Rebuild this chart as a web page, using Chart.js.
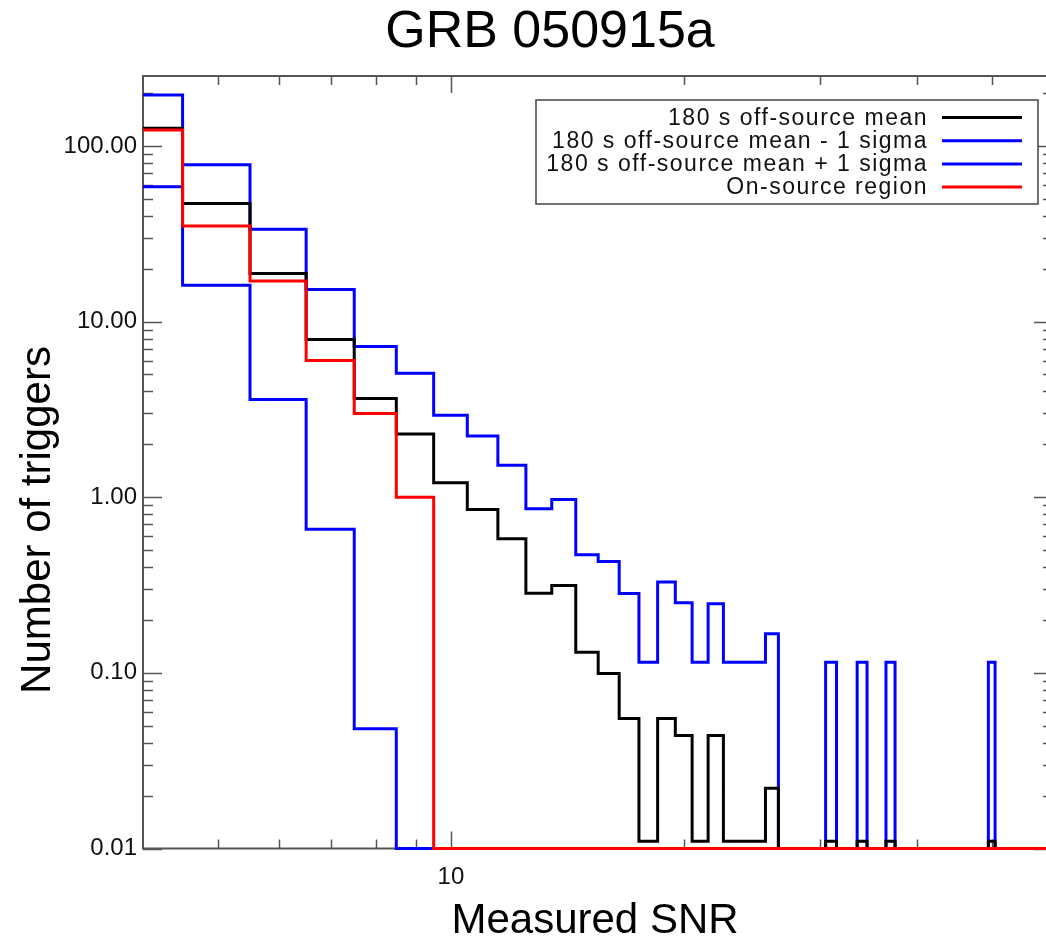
<!DOCTYPE html>
<html>
<head>
<meta charset="utf-8">
<title>GRB 050915a</title>
<script src="https://cdn.jsdelivr.net/npm/chart.js@4.4.1/dist/chart.umd.min.js"></script>
<style>
  html, body { margin: 0; padding: 0; background: #fff; }
  #wrap { width: 1046px; height: 936px; overflow: hidden; position: relative; }
  #grb { display: block; }
</style>
</head>
<body>
<div id="wrap"><canvas id="grb" width="1060" height="936"></canvas></div>
<script>
// ── DATA ─────────────────────────────────────────────────────
// SNR bin centres (each bin is 1 SNR wide)
const SNR_BINS = [
   4,  5,  6,  7,  8,  9, 10, 11, 12, 13,
  14, 15, 16, 17, 18, 19, 20, 21, 22, 23,
  24, 25, 26, 27, 28, 29, 30, 31, 32, 33,
  34, 35, 36, 37, 38, 39, 40, 41, 42, 43,
  44, 45, 46, 47, 48, 49, 50, 51, 52, 53,
  54, 55, 56, 57, 58, 59,
];

// 180 s off-source mean
const MEAN = [
  126, 47, 18.8, 7.9, 3.65, 2.29, 1.21, 0.85, 0.58, 0.284,
  0.314, 0.131, 0.099, 0.055, 0.011, 0.055, 0.044, 0.011, 0.044, 0.011,
  0.011, 0.011, 0.022, 0, 0, 0, 0, 0.011, 0, 0,
  0.011, 0, 0, 0.011, 0, 0, 0, 0, 0, 0,
  0, 0, 0, 0, 0, 0, 0.011, 0, 0, 0,
  0, 0, 0, 0, 0, 0,
];

// mean - 1 sigma (negative values shown as 0)
const MEAN_MINUS = [
  58.6, 16.1, 3.6, 0.657, 0.048, 0, 0, 0, 0, 0,
  0, 0, 0, 0, 0, 0, 0, 0, 0, 0,
  0, 0, 0, 0, 0, 0, 0, 0, 0, 0,
  0, 0, 0, 0, 0, 0, 0, 0, 0, 0,
  0, 0, 0, 0, 0, 0, 0, 0, 0, 0,
  0, 0, 0, 0, 0, 0,
];

// mean + 1 sigma
const MEAN_PLUS = [
  195, 78, 33.5, 15.2, 7.2, 5.07, 2.93, 2.23, 1.52, 0.86,
  0.97, 0.47, 0.43, 0.283, 0.115, 0.329, 0.251, 0.115, 0.247, 0.115,
  0.115, 0.115, 0.167, 0, 0, 0, 0, 0.115, 0, 0,
  0.115, 0, 0, 0.115, 0, 0, 0, 0, 0, 0,
  0, 0, 0, 0, 0, 0, 0.115, 0, 0, 0,
  0, 0, 0, 0, 0, 0,
];

// on-source region counts
const ON_SOURCE = [
  123, 35, 17, 6, 3, 1, 0, 0, 0, 0,
  0, 0, 0, 0, 0, 0, 0, 0, 0, 0,
  0, 0, 0, 0, 0, 0, 0, 0, 0, 0,
  0, 0, 0, 0, 0, 0, 0, 0, 0, 0,
  0, 0, 0, 0, 0, 0, 0, 0, 0, 0,
  0, 0, 0, 0, 0, 0,
];

const X_MIN = 4, X_MAX = 60;
const Y_MIN = 0.01, Y_MAX = 250;

const X_TICKS = [10];
const X_MINOR = [5, 6, 7, 8, 9, 20, 30, 40, 50];
const Y_TICKS = [0.01, 0.1, 1, 10, 100];
const Y_MINOR = [
  0.02, 0.03, 0.04, 0.05, 0.06, 0.07, 0.08, 0.09,
  0.2, 0.3, 0.4, 0.5, 0.6, 0.7, 0.8, 0.9,
  2, 3, 4, 5, 6, 7, 8, 9,
  20, 30, 40, 50, 60, 70, 80, 90,
  200,
];

const TITLE   = 'GRB 050915a';
const X_TITLE = 'Measured SNR';
const Y_TITLE = 'Number of triggers';

const LABELS = [
  '180 s off-source mean',
  '180 s off-source mean - 1 sigma',
  '180 s off-source mean + 1 sigma',
  'On-source region',
];
const COLORS = ['#000000', '#0000ff', '#0000ff', '#ff0000'];

const FONT = '"Liberation Sans", Arial, Helvetica, sans-serif';

// ── HISTOGRAM STEPS ──────────────────────────────────────────
// one point per bin at its lower edge, plus a closing point; zeros sit on the axis floor
function steps(values) {
  const pts = SNR_BINS.map((c, i) => ({ x: c - 0.5, y: Math.max(values[i], Y_MIN) }));
  pts.push({ x: X_MAX, y: Math.max(values[values.length - 1], Y_MIN) });
  return pts;
}

// ── PLUGINS ──────────────────────────────────────────────────
const frameTicks = {
  id: 'frameTicks',
  beforeDatasetsDraw(chart) {
    const { ctx, chartArea: a, scales: { x, y } } = chart;
    ctx.save();
    ctx.strokeStyle = '#555';
    ctx.lineWidth = 2;
    ctx.strokeRect(a.left, a.top, a.right - a.left, a.bottom - a.top);
    ctx.lineWidth = 1.5;
    const seg = (x0, y0, x1, y1) => {
      ctx.beginPath(); ctx.moveTo(x0, y0); ctx.lineTo(x1, y1); ctx.stroke();
    };
    X_TICKS.concat(X_MINOR).forEach(v => {
      const px = Math.round(x.getPixelForValue(v)) + 0.5;
      const len = X_TICKS.includes(v) ? 17 : 9;
      seg(px, a.bottom, px, a.bottom - len);
      seg(px, a.top, px, a.top + len);
    });
    Y_TICKS.concat(Y_MINOR).forEach(v => {
      const py = Math.round(y.getPixelForValue(v)) + 0.5;
      const len = Y_TICKS.includes(v) ? 19 : 10;
      seg(a.left, py, a.left + len, py);
      seg(a.right, py, a.right - len, py);
    });
    ctx.restore();
  },
};

const boxLegend = {
  id: 'boxLegend',
  afterDatasetsDraw(chart) {
    const { ctx } = chart;
    const L = 536, T = 100, R = 1038, B = 204;
    ctx.save();
    ctx.fillStyle = '#fff';
    ctx.fillRect(L, T, R - L, B - T);
    ctx.strokeStyle = '#444';
    ctx.lineWidth = 1.5;
    ctx.strokeRect(L, T, R - L, B - T);
    ctx.font = '23px ' + FONT;
    if ('letterSpacing' in ctx) ctx.letterSpacing = '1.5px';
    ctx.textAlign = 'right';
    ctx.textBaseline = 'middle';
    chart.data.datasets.forEach((ds, i) => {
      const yy = 117.5 + i * 23.2;
      ctx.fillStyle = '#111';
      ctx.fillText(ds.label, 928, yy + 1);
      ctx.strokeStyle = ds.borderColor;
      ctx.lineWidth = 3;
      ctx.beginPath(); ctx.moveTo(942, yy); ctx.lineTo(1022, yy); ctx.stroke();
    });
    ctx.restore();
  },
};

const titles = {
  id: 'titles',
  afterDraw(chart) {
    const { ctx } = chart;
    ctx.save();
    ctx.fillStyle = '#000';
    ctx.textAlign = 'center';
    ctx.textBaseline = 'alphabetic';
    ctx.font = '52px ' + FONT;
    ctx.fillText(TITLE, 550, 47);
    ctx.font = '42px ' + FONT;
    ctx.fillText(X_TITLE, 595, 933);
    ctx.translate(50, 520);
    ctx.rotate(-Math.PI / 2);
    ctx.fillText(Y_TITLE, 0, 0);
    ctx.restore();
  },
};

// ── CHART ────────────────────────────────────────────────────
const series = [MEAN, MEAN_MINUS, MEAN_PLUS, ON_SOURCE];

new Chart(document.getElementById('grb'), {
  type: 'line',
  data: {
    datasets: series.map((vals, i) => ({
      label: LABELS[i],
      data: steps(vals),
      borderColor: COLORS[i],
      backgroundColor: COLORS[i],
      borderWidth: 3,
      pointRadius: 0,
      stepped: true,
      fill: false,
      // let the floor line show at full width below the axis
      clip: { left: 0, top: 0, right: 0, bottom: 3 },
      order: i === 3 ? 0 : 1,   // on-source drawn last (on top)
    })),
  },
  options: {
    responsive: false,
    devicePixelRatio: 1,
    animation: false,
    layout: { padding: { left: 0, right: 7, top: 76, bottom: 0 } },
    plugins: {
      legend: { display: false },
      tooltip: { enabled: false },
      title: { display: false },
    },
    scales: {
      x: {
        type: 'logarithmic',
        min: X_MIN,
        max: X_MAX,
        grid: { display: false, drawTicks: false },
        border: { display: false },
        afterBuildTicks: s => { s.ticks = X_TICKS.map(v => ({ value: v })); },
        // half-pixel floor keeps the 3px lines along 0.01 crisp
        afterFit: s => { s.height = 87.5; },
        ticks: {
          callback: v => String(v),
          autoSkip: false,
          maxRotation: 0,
          padding: 14,
          color: '#111',
          font: { family: FONT, size: 24 },
        },
      },
      y: {
        type: 'logarithmic',
        min: Y_MIN,
        max: Y_MAX,
        grid: { display: false, drawTicks: false },
        border: { display: false },
        afterBuildTicks: s => { s.ticks = Y_TICKS.map(v => ({ value: v })); },
        afterFit: s => { s.width = 143; },
        ticks: {
          callback: v => Number(v).toFixed(2),
          autoSkip: false,
          padding: 6,
          color: '#111',
          font: { family: FONT, size: 24 },
        },
      },
    },
  },
  plugins: [frameTicks, boxLegend, titles],
});
</script>
</body>
</html>
